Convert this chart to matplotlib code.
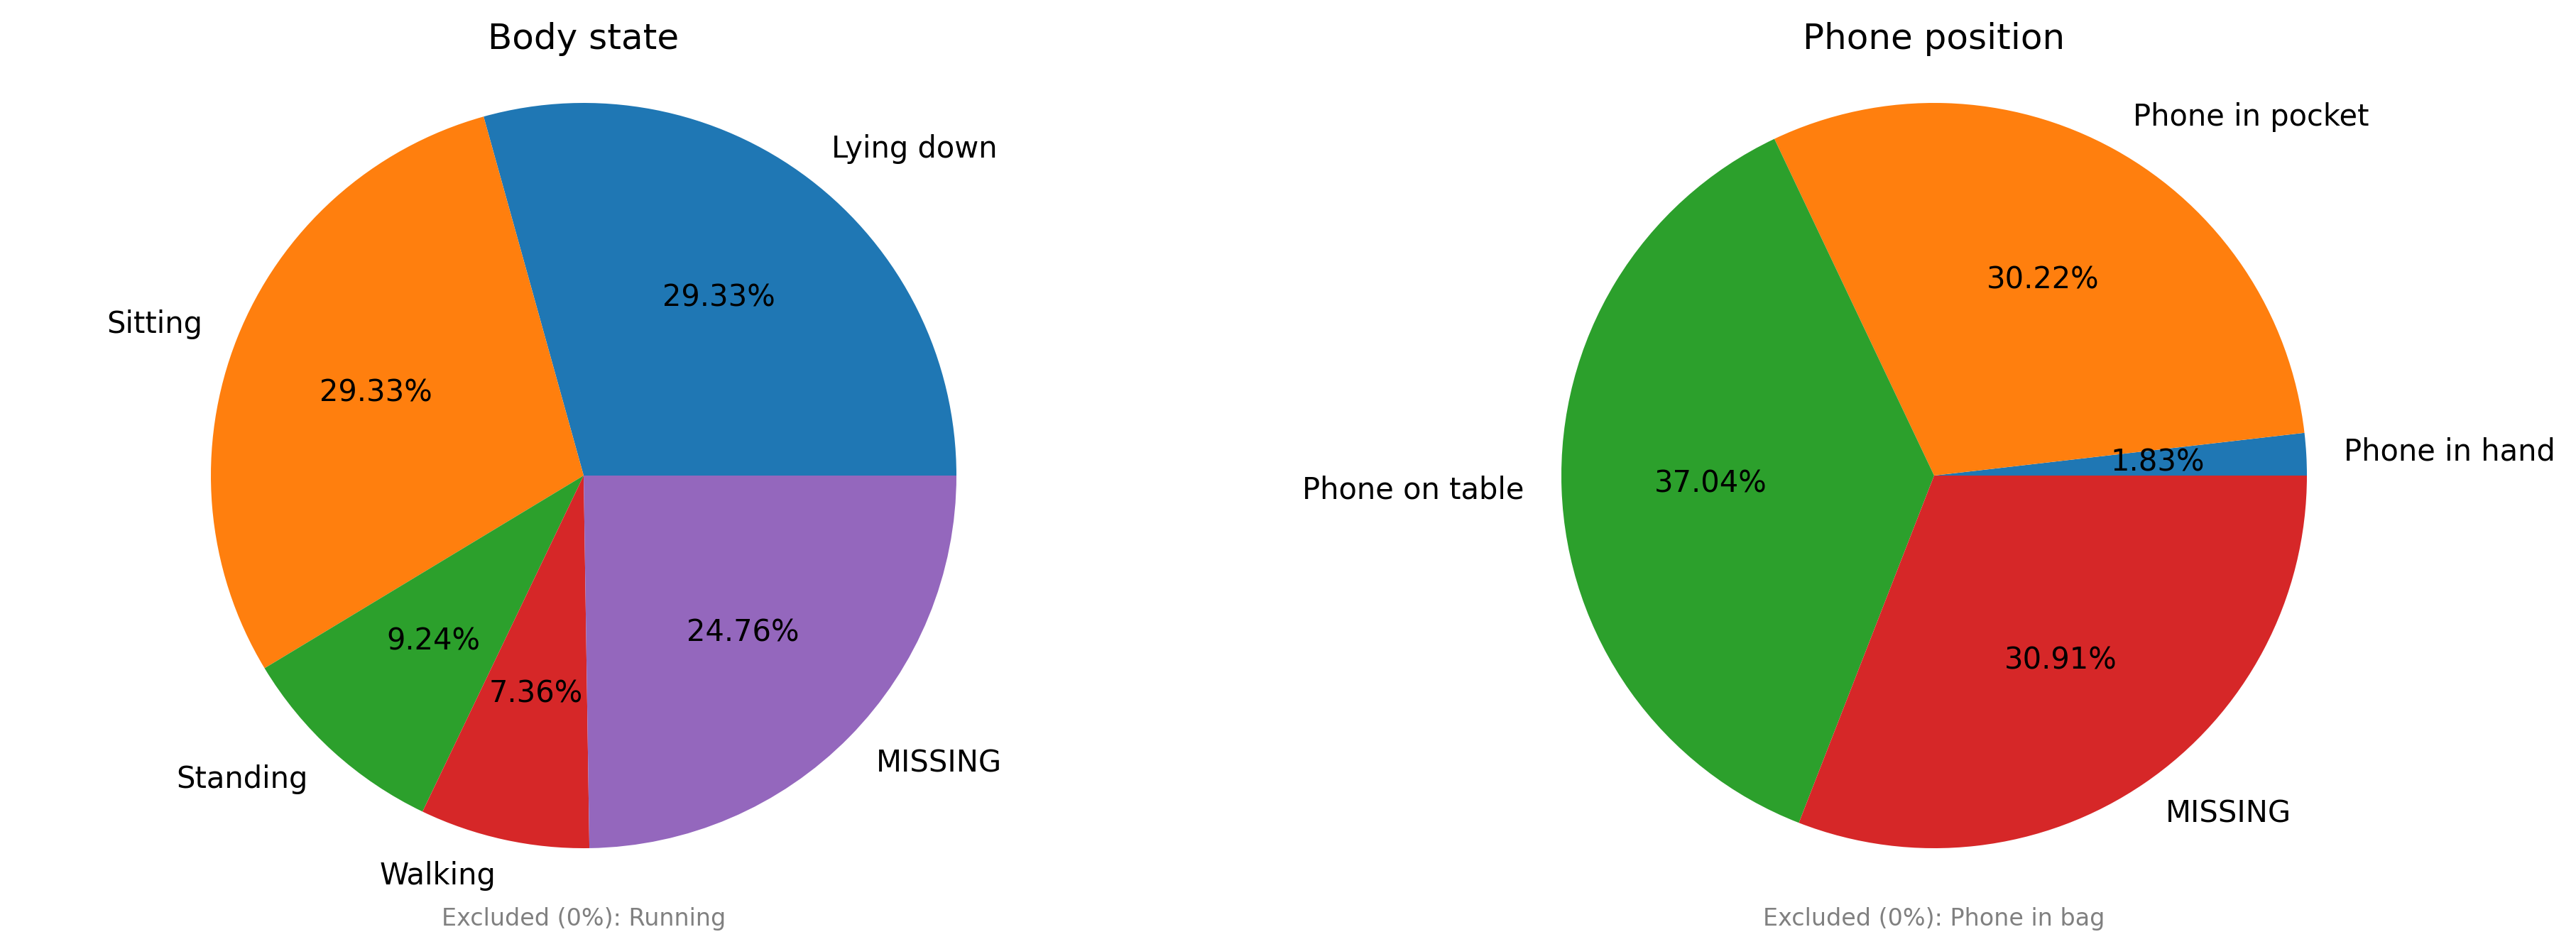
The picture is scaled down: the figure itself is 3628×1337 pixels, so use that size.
import matplotlib
matplotlib.use("Agg")
import matplotlib.pyplot as plt

body_labels = ["Lying down", "Sitting", "Standing", "Walking", "MISSING"]
body_pct = [29.33, 29.33, 9.24, 7.36, 24.76]
body_excluded = ["Running"]

phone_labels = ["Phone in hand", "Phone in pocket", "Phone on table", "MISSING"]
phone_pct = [1.83, 30.22, 37.04, 30.91]
phone_excluded = ["Phone in bag"]

W, H = 3629, 1337
fig = plt.figure(figsize=(W / 300, H / 300), dpi=300)

side = 1312.5  # pie axes side in px (radius 525 px over +-1.25)


def make_ax(cx, cy):
    # cx, cy: pie centre in px from top-left
    return fig.add_axes([(cx - side / 2) / W, (H - cy - side / 2) / H, side / W, side / H])


def draw(ax, labels, pct, title, excluded):
    total = sum(pct)
    ax.pie(pct, labels=labels, autopct=lambda p: f"{p * total / 100:.2f}%")
    ax.set_xlim(-1.25, 1.25)
    ax.set_ylim(-1.25, 1.25)
    ax.set_title(title, y=0.958, pad=0)
    ax.text(0, -1.208, "Excluded (0%): " + ", ".join(excluded),
            ha="center", va="baseline", fontsize=8, color="gray")


ax1 = make_ax(822, 670)
draw(ax1, body_labels, body_pct, "Body state", body_excluded)

ax2 = make_ax(2724, 670)
draw(ax2, phone_labels, phone_pct, "Phone position", phone_excluded)

fig.savefig("out.png", dpi=300)
